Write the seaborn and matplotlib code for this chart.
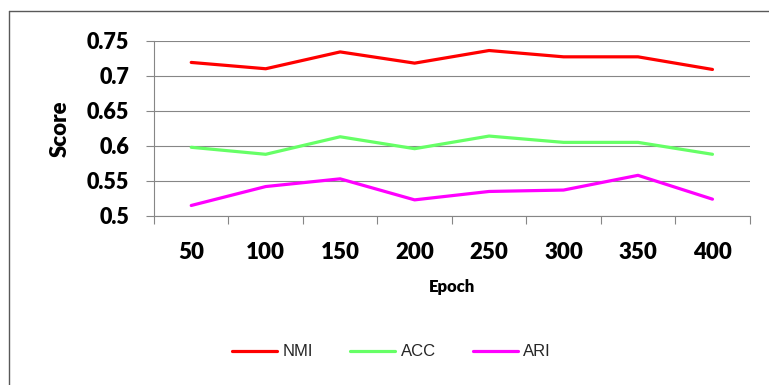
import numpy as np
import pandas as pd
import matplotlib
matplotlib.use("Agg")
import matplotlib.pyplot as plt
from matplotlib.lines import Line2D
from matplotlib.ticker import FixedLocator
import seaborn as sns

# Scores per training epoch
epochs = [50, 100, 150, 200, 250, 300, 350, 400]
nmi = [0.719, 0.710, 0.734, 0.718, 0.736, 0.727, 0.727, 0.709]
acc = [0.598, 0.588, 0.613, 0.596, 0.614, 0.605, 0.605, 0.588]
ari = [0.515, 0.542, 0.553, 0.523, 0.535, 0.537, 0.558, 0.524]
metrics = ["NMI", "ACC", "ARI"]
colors = {"NMI": "#FF0000", "ACC": "#66FF66", "ARI": "#FF00FF"}
y_ticks = [0.5, 0.55, 0.6, 0.65, 0.7, 0.75]
y_tick_labels = ["0.5", "0.55", "0.6", "0.65", "0.7", "0.75"]

pos = np.arange(len(epochs))
df = pd.concat(
    [pd.DataFrame({"pos": pos, "Score": vals, "Metric": name})
     for name, vals in zip(metrics, [nmi, acc, ari])],
    ignore_index=True,
)

sns.set_theme(style="white")
plt.rcParams["font.family"] = ["Lato", "DejaVu Sans"]

W, H = 769, 385
fig = plt.figure(figsize=(W / 100, H / 100), dpi=100)
fig.patch.set_facecolor("white")

left, right, top, bottom = 154, 749.7, 40.7, 216
ax = fig.add_axes([left / W, 1 - bottom / H, (right - left) / W, (bottom - top) / H])

sns.lineplot(data=df, x="pos", y="Score", hue="Metric", hue_order=metrics,
             palette=colors, linewidth=2.3, errorbar=None, sort=False,
             legend=False, ax=ax)

grid_c = "#868686"
ax.set_xlim(-0.5, len(epochs) - 0.5)
ax.set_ylim(0.5, 0.75)
ax.set_yticks(y_ticks)
ax.set_yticklabels(y_tick_labels)
ax.yaxis.grid(True, color=grid_c, linewidth=0.8)
ax.xaxis.grid(False)
ax.set_axisbelow(True)

ax.set_xticks(pos)
ax.set_xticklabels([str(e) for e in epochs])
ax.xaxis.set_minor_locator(FixedLocator(np.arange(len(epochs) + 1) - 0.5))

for s in ["top", "right"]:
    ax.spines[s].set_visible(False)
for s in ["left", "bottom"]:
    ax.spines[s].set_color(grid_c)
    ax.spines[s].set_linewidth(0.8)

ax.tick_params(axis="x", which="major", length=0, pad=19,
               labelsize=16, labelcolor="black")
ax.tick_params(axis="x", which="minor", bottom=True, length=5.8,
               width=0.8, color=grid_c, direction="out")
ax.tick_params(axis="y", which="major", left=True, length=5.8, width=0.8,
               color=grid_c, direction="out", pad=12, labelsize=15.5,
               labelcolor="black")
for lab in ax.get_xticklabels() + ax.get_yticklabels():
    lab.set_fontweight("heavy")

ax.set_xlabel("Epoch", fontsize=12, fontweight="heavy", color="black")
ax.xaxis.set_label_coords(0.5, -0.36)
ax.set_ylabel("Score", fontsize=16, fontweight="heavy", color="black")
ax.yaxis.set_label_coords(-0.14, 0.496)

handles = [Line2D([0], [0], color=colors[m], linewidth=2.3) for m in metrics]
fig.legend(handles, metrics, loc="center", bbox_to_anchor=(391.5 / W, 1 - 352 / H),
           ncol=3, frameon=False, handlelength=2.7, handletextpad=0.35,
           columnspacing=2.2, prop={"family": ["Liberation Sans"], "size": 12})

# Chart frame
frame_c = "#595959"
fig.add_artist(Line2D([8.5 / W, 8.5 / W], [0, 1 - 10.7 / H],
                      transform=fig.transFigure, color=frame_c, linewidth=1.0))
fig.add_artist(Line2D([8.5 / W, 1], [1 - 10.7 / H, 1 - 10.7 / H],
                      transform=fig.transFigure, color=frame_c, linewidth=1.0))

fig.savefig("out.png", dpi=100, facecolor="white")
